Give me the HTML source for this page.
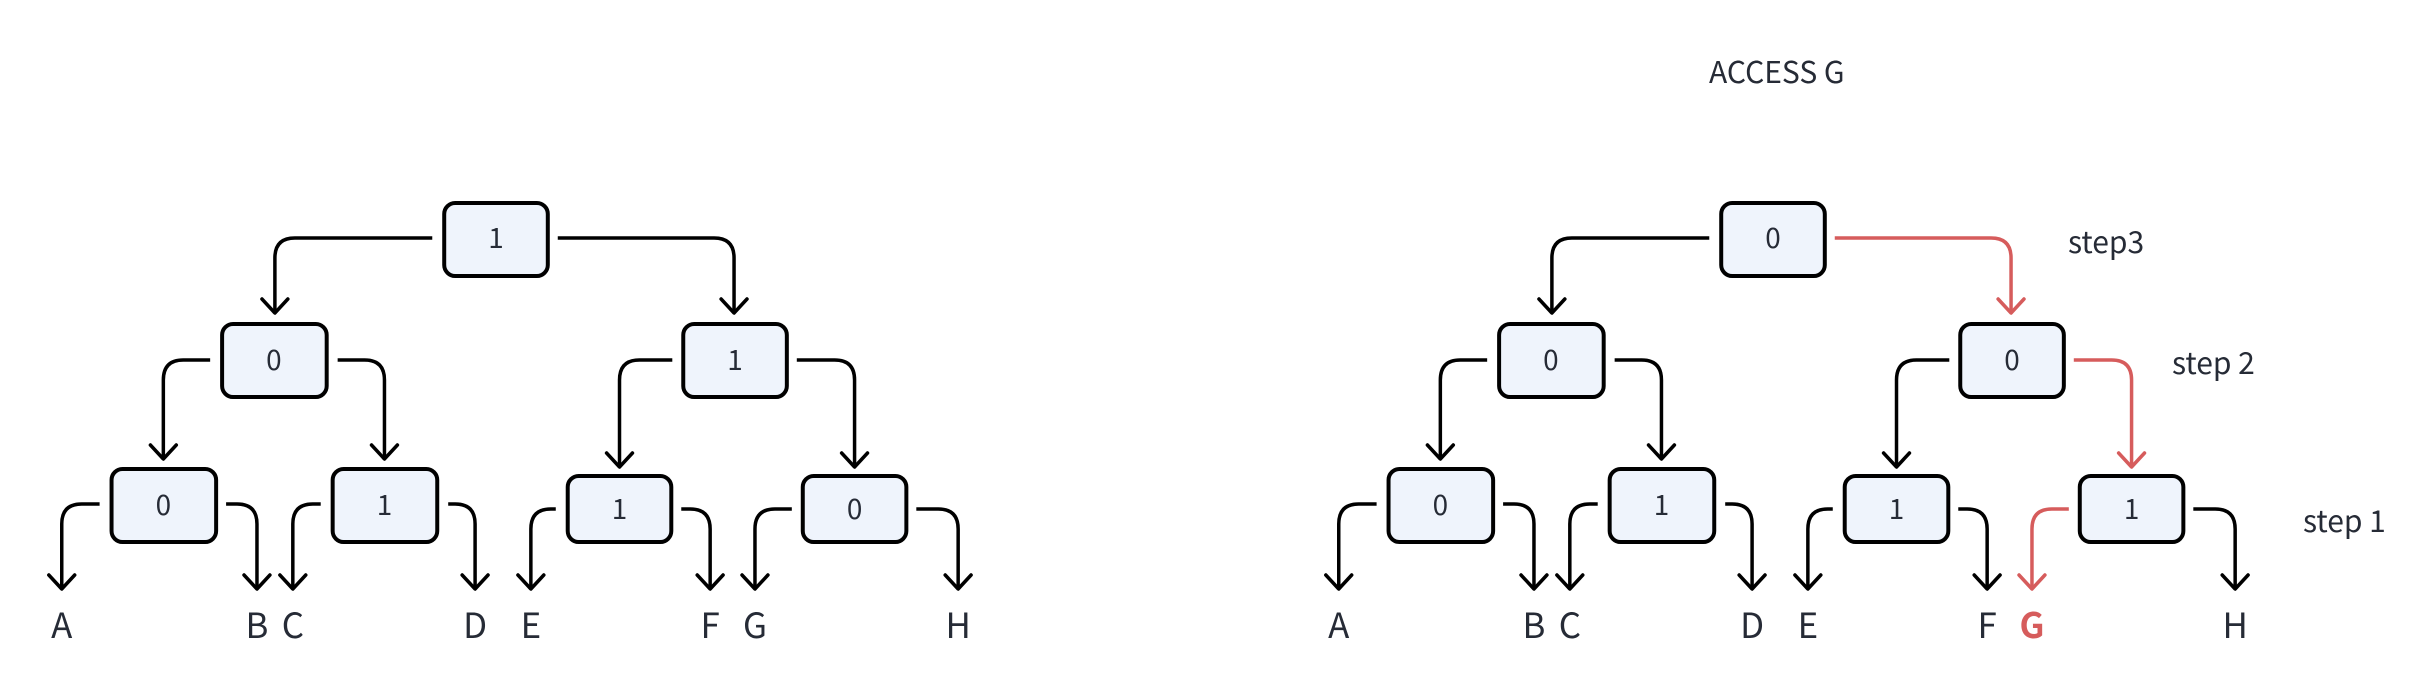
<!DOCTYPE html>
<html><head><meta charset="utf-8"><style>
html,body{margin:0;padding:0;background:#fff;}
svg{display:block;}
text{font-family:"Noto Sans CJK SC","Liberation Sans",sans-serif;fill:#262b36;}
</style></head><body>
<svg width="2428" height="696" viewBox="0 0 2428 696" xmlns="http://www.w3.org/2000/svg">
<defs>
<marker id="ak" markerUnits="userSpaceOnUse" markerWidth="40" markerHeight="40" viewBox="-20 -20 40 40" refX="0" refY="0" orient="auto">
<path d="M-14,-13 L0,0 L-14,13" fill="none" stroke="#000" stroke-width="3.5" stroke-linecap="round" stroke-linejoin="round"/></marker>
<marker id="ar" markerUnits="userSpaceOnUse" markerWidth="40" markerHeight="40" viewBox="-20 -20 40 40" refX="0" refY="0" orient="auto">
<path d="M-14,-13 L0,0 L-14,13" fill="none" stroke="#d65c5c" stroke-width="3.5" stroke-linecap="round" stroke-linejoin="round"/></marker>
</defs>

<!-- LEFT TREE -->
<g transform="matrix(0.996,0,0,1,0,0)">
<g fill="none" stroke="#000" stroke-width="3.5" marker-end="url(#ak)">
<path d="M434 238 H296 Q276 238 276 258 V313"/>
<path d="M560 238 H717 Q737 238 737 258 V313"/>
<path d="M211 360 H184 Q164 360 164 380 V459"/>
<path d="M339 360 H366 Q386 360 386 380 V459"/>
<path d="M675 360 H642 Q622 360 622 380 V467"/>
<path d="M800 360 H838 Q858 360 858 380 V467"/>
<path d="M100 504 H82 Q62 504 62 524 V589"/>
<path d="M227 504 H238 Q258 504 258 524 V589"/>
<path d="M322 504 H314 Q294 504 294 524 V589"/>
<path d="M450 504 H457 Q477 504 477 524 V589"/>
<path d="M558 509 H553 Q533 509 533 529 V589"/>
<path d="M684 509 H693 Q713 509 713 529 V589"/>
<path d="M795 509 H778 Q758 509 758 529 V589"/>
<path d="M920 509 H942 Q962 509 962 529 V589"/>
</g>
<g fill="#eff4fc" stroke="#000" stroke-width="4">
<rect x="446" y="203" width="104" height="73" rx="11"/>
<rect x="223" y="324" width="105" height="73" rx="11"/>
<rect x="686" y="324" width="104" height="73" rx="11"/>
<rect x="112" y="469" width="105" height="73" rx="11"/>
<rect x="334" y="469" width="105" height="73" rx="11"/>
<rect x="570" y="476" width="104" height="66" rx="11"/>
<rect x="806" y="476" width="104" height="66" rx="11"/>
</g>
<g font-size="28" text-anchor="middle">
<text x="498" y="248">1</text>
<text x="275" y="370">0</text>
<text x="738" y="370">1</text>
<text x="164" y="515">0</text>
<text x="386" y="515">1</text>
<text x="622" y="519">1</text>
<text x="858" y="519">0</text>
</g>
<g font-size="35" text-anchor="middle">
<text x="62" y="638">A</text>
<text x="258" y="638">B</text>
<text x="294" y="638">C</text>
<text x="477" y="638">D</text>
<text x="533" y="638">E</text>
<text x="713" y="638">F</text>
<text x="758" y="638">G</text>
<text x="962" y="638">H</text>
</g>
</g>

<!-- RIGHT TREE -->
<g transform="matrix(0.996,0,0,1,1277,0)">
<g fill="none" stroke="#000" stroke-width="3.5" marker-end="url(#ak)">
<path d="M434 238 H296 Q276 238 276 258 V313"/>
<path d="M211 360 H184 Q164 360 164 380 V459"/>
<path d="M339 360 H366 Q386 360 386 380 V459"/>
<path d="M675 360 H642 Q622 360 622 380 V467"/>
<path d="M100 504 H82 Q62 504 62 524 V589"/>
<path d="M227 504 H238 Q258 504 258 524 V589"/>
<path d="M322 504 H314 Q294 504 294 524 V589"/>
<path d="M450 504 H457 Q477 504 477 524 V589"/>
<path d="M558 509 H553 Q533 509 533 529 V589"/>
<path d="M684 509 H693 Q713 509 713 529 V589"/>
<path d="M920 509 H942 Q962 509 962 529 V589"/>
</g>
<g fill="none" stroke="#d65c5c" stroke-width="3.5" marker-end="url(#ar)">
<path d="M560 238 H717 Q737 238 737 258 V313"/>
<path d="M800 360 H838 Q858 360 858 380 V467"/>
<path d="M795 509 H778 Q758 509 758 529 V589"/>
</g>
<g fill="#eff4fc" stroke="#000" stroke-width="4">
<rect x="446" y="203" width="104" height="73" rx="11"/>
<rect x="223" y="324" width="105" height="73" rx="11"/>
<rect x="686" y="324" width="104" height="73" rx="11"/>
<rect x="112" y="469" width="105" height="73" rx="11"/>
<rect x="334" y="469" width="105" height="73" rx="11"/>
<rect x="570" y="476" width="104" height="66" rx="11"/>
<rect x="806" y="476" width="104" height="66" rx="11"/>
</g>
<g font-size="28" text-anchor="middle">
<text x="498" y="248">0</text>
<text x="275" y="370">0</text>
<text x="738" y="370">0</text>
<text x="164" y="515">0</text>
<text x="386" y="515">1</text>
<text x="622" y="519">1</text>
<text x="858" y="519">1</text>
</g>
<g font-size="35" text-anchor="middle">
<text x="62" y="638">A</text>
<text x="258" y="638">B</text>
<text x="294" y="638">C</text>
<text x="477" y="638">D</text>
<text x="533" y="638">E</text>
<text x="713" y="638">F</text>
<text x="758" y="638" style="fill:#d65c5c;font-weight:bold">G</text>
<text x="962" y="638">H</text>
</g>
</g>

<g font-size="30">
<text x="1709" y="83">ACCESS G</text>
<text x="2068" y="253">step3</text>
<text x="2172" y="374">step 2</text>
<text x="2303" y="532">step 1</text>
</g>
</svg>
</body></html>
